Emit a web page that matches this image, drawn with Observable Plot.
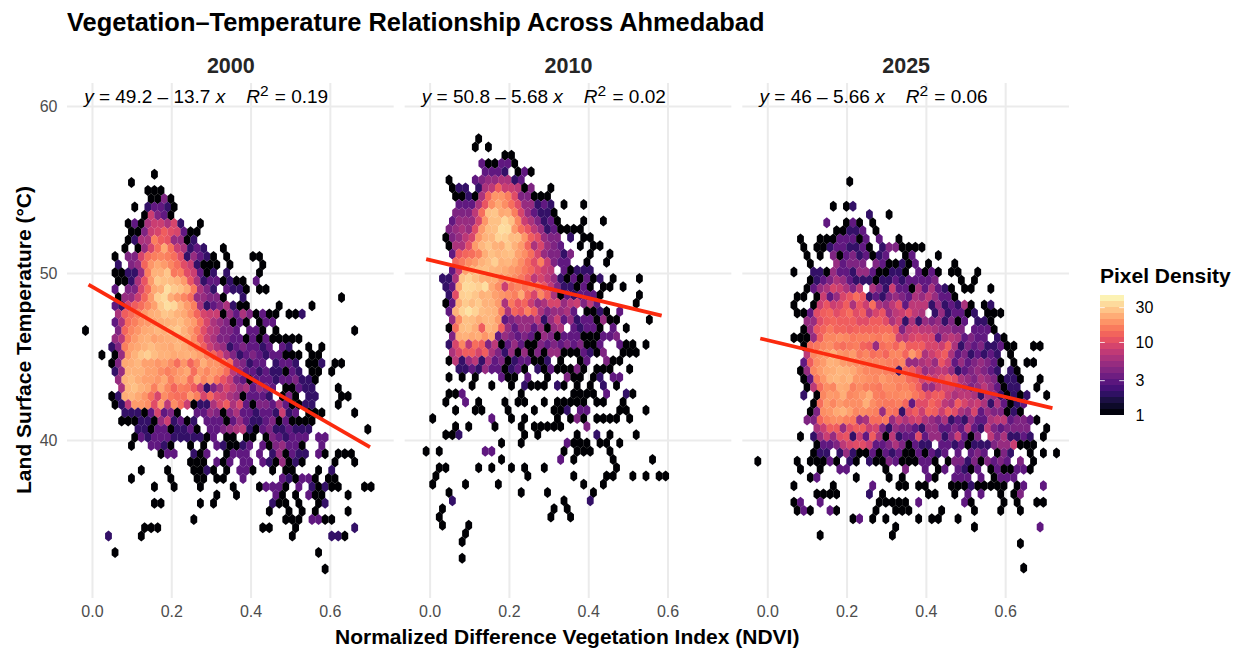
<!DOCTYPE html>
<html><head><meta charset="utf-8">
<script src="https://cdn.jsdelivr.net/npm/d3@7"></script>
<script src="https://cdn.jsdelivr.net/npm/@observablehq/plot@0.6"></script>
<style>
html,body{margin:0;padding:0;background:#fff;width:1241px;height:648px;overflow:hidden}
body{position:relative;font-family:"Liberation Sans",Arial,sans-serif}
.ov{position:absolute;white-space:nowrap;line-height:1}
svg{display:block}
</style></head><body>
<div id="chart"></div>
<div class="ov" id="title" style="left:67px;top:10px;font-size:25.4px;font-weight:bold;color:#000">Vegetation–Temperature Relationship Across Ahmedabad</div>
<div class="ov" id="xt" style="left:335px;top:626px;font-size:21px;font-weight:bold;color:#000">Normalized Difference Vegetation Index (NDVI)</div>
<div class="ov" id="yt" style="left:23px;top:340px;font-size:21px;font-weight:bold;color:#000;transform:translate(-50%,-50%) rotate(-90deg)">Land Surface Temperature (°C)</div>
<div class="ov" id="lt" style="left:1100px;top:265px;font-size:21px;font-weight:bold;color:#000">Pixel Density</div>
<div id="legend" style="position:absolute;left:1100px;top:289px"></div>
<script>
// Panels
const years = ["2000", "2010", "2025"];
// Fit line read-outs, one value per panel
const fitXStart = [-0.01, -0.01, -0.019];
const fitXEnd = [0.70, 0.584, 0.718];
const fitYStart = [49.34, 50.86, 46.11];
const fitYEnd = [39.61, 47.48, 41.94];
const eqIntercept = ["49.2", "50.8", "46"];
const eqSlope = ["13.7", "5.68", "5.66"];
const eqR2 = ["0.19", "0.02", "0.06"];
// Hexagon bin grid of the picture, one value per panel
const topRowY = [55.95, 58.07, 55.51];
const oddRowX = [-0.0176, -0.0186, -0.0335];
const evenRowX = [-0.0093, -0.0101, -0.0252];
const binW = 0.01656, binH = 0.4925;
// Axis and legend ticks
const xTicks = [0, 0.2, 0.4, 0.6];
const yTicks = [40, 50, 60];
const legendTicks = [1, 3, 10, 30];

// Counts of every hexagon, one string per row from the top.
// "col:codes" = first column, then one base-36 count per column ("." = no hexagon).
const rows2000 = [
"10:1","7:1","9:111","10:1141","7:1.23321","9:18431","6:131688692..1","7:11489ca9311","6:1266gcb5512",
"6:1.159eme86232..1","4:1.449eghgea25321.1...11","5:2.45djmkhea82111.1....1","4:11225goosfga8312.2....1",
"5:1126bktrqokb62331211.3","4:3.449emoytrnf642.3221.11","5:1558dkuxnkhe55441..2 39:1",
"4:329cehltywpkg62346211 29:1 34:1","5:6cegknosromid988153641311.112","4:36egjkmnopqmke9654131.133",
"0:1 5:4dhjmnpnrtokfa76443.331.1 41:1","4:57gknolmnoonic864433131311111","4:24glmoqonmpnlic8652343323.32..1.1",
"2:1.15kosuqoomnonlhda642343233111.11","4:14mnplljliejdhnjjge54233.2332.112.11","4:25ooolligikmekhkie75332322132.11.1",
"5:5oqnlljmgklemhkfb84313332334221","5:6promgmhdgfc824697563543.11322 38:1","4:12npmje9ifeekg9d986513332.141.22 39:11",
"4:127kkiak7ie812269c6931443631122 38:1","6:222139341..3354146332332823.111 41:1","5:111221582312.33313532234131111",
"8:2213312231.3345672134223222 43:1","7:1323332222213.11.11.1432333.33","7:1..3321..1.1.321123.3145331..3",
"11:133..213..1333.3.251322.31.111","16:111.313.33.3215121 38:1 41:1","8:1 12:1 16:1121.1.331 28:1.11 35:1.2",
"7:1 13:1 17:11 20:11 24:3 30:321331 37:11","10:1 13:1 17:1 22:1 26:13331 32:3 34:21211 42:11",
"20:1 23:1 29:31 32:1 34:311 40:1","10:11 17:1 19:1 28:211 32:1 35:12","28:1 31:1 33:1 35:1 40:1",
"16:1 30:111 34:3311","9:111 27:11 32:1 41:2","3:2 8:1 31:1 37:221","","4:1 35:1","","36:1"
];
const rows2010 = [
"8:1","8:1.1","12:11","9:311331","9:3332.131","4:1...34556623","4:122.267c88714..1","5:11216djjga44111",
"5:3336bimiea55232 21:1 24:1","5:4447ersmng953221","4:35559jrrwrh864231 24:1 27:1","4:4565akqryxkeb75231111",
"3:14579jopvuqqjca544.2.11","4:166akpsontokd69543 24:1 26:11","4:3bdegnrpqrlie954424 25:1 28:1","5:dfikoquopmieag8433 25:1 28:1",
"4:38loqrpomkifda87.31222","3:226svronnikifc79752131312 29:1 33:1","3:23mxwuymi8fhfhfb7422131 27:11 30:1",
"4:2auvsopljigmd9hc61323331 33:1","3:13ntqtook6fbd85699578473 32:1","4:3ovzvqpog6dbgc645563.1121.3",
"4:5irqnppk345557258352331511 34:1","4:1eqrncpnc535535156.32331.3.1","4:4nomnjm3543431541333111334",
"4:29h7ec471353114343434113..311.1","4:69cc9c642515141551113214 30:111","4:1725726341233112.1..13..411",
"5:22325331231.21311141.111 31:1","4:1.1.1 12:311 16:3 19:1 22:411 26:12 29:33","7:1 10:1 13:1 15:2111 20:21 23:1 25:1 27:2 29:1",
"4:113 15:1 23:1111 28:3 31:21","3:1 6:3 8:1 12:1 14:11 18:1 20:11111 26:11 30:1","5:1 8:11 13:1 17:1 20:112 24:33 30:11 34:1",
"1:1 10:3 13:1 15:1 20:1 22:141 26:1111 31:1","5:1 7:1 11:1 15:1 17:11111 25:4","3:112 15:1 17:1 23:1 26:2 28:1 32:1",
"12:1 15:1 22:3111 27:11 30:1","0:1 2:1 9:33 21:1 23:111 28:1","12:1 21:3 23:1 29:1 35:1","2:11 8:1 10:1 13:1 15:1 18:1 29:1",
"2:1 16:1 23:1 28:11 32:1 34:1 36:11","1:1 6:1 11:1 24:1 27:1","4:1 15:1 19:1 26:1","4:2 21:1 25:2","3:1 20:1 22:1","2:1 19:1 22:1",
"3:1 7:1","6:1","6:1","","6:1"
];
const rows2025 = [
"14:1","","","12:1.12","17:2..1","11:3..131.1","12:11223.1","7:1 10:11133313.3 22:1","7:1 9:112332231.2441111",
"8:1 10:1.413423123..13 28:1","8:1 12:53444.4311213 26:1 30:1","6:1 9:221533255311221.3131 30:11 34:1","8:12346532221223233334 31:1 33:1",
"8:135698647.6428331636321 32:11 36:1","6:11.18359beb23245436575331","6:1..18b89c6b8e657a37772523261.12",
"6:113acdaceac69b578a76.2523312.111","8:55acdcccaacca682625452413.221","7:15bdfddcddddeeb4787765544.3331",
"6:1115chhihfgggfhg879a9936763433.21","7:1efhifefgdc5efdhccc998c6243422311 42:11","8:7hjknjikfhefdhhdkf68ac63423232.1",
"7:3cikonkjihhhhgfh55675b835345431.1 41:11","7:15hkmnpomjhhhgf2dc9567752345432.21","7:13fjopnpjjihkihhed9a8aca6546541221 43:1",
"8:17eihnmgiggfiighfc558997645753122 43:1","7:2.1hkjnhikngfhhiifdacc8677626521212 44:1","9:1ekhkiiinigffgd3aadb76c9786263123",
"8:14ijmolhihg5fe2ac8dc8ca6593544121","8:44dgiigf56eef58689654623253367734431","9:68cc5acc8942544325533437327434444 44:1",
"7:1.2585ab283c617233a355248314.7462232 44:1","9:133479aa8334641322.332312224558111","9:122.25211313231131323.3.343.142..1.1.1",
"0:1 6:1.11131.21.21143111331.1442414343.4.1","7:1 10:1 13:33 20:1 23:4 26:3 28:13 31:3213 36:1311331","8:13 15:1 20:1 22:1 26:31 30:333 34:3 36:1333",
"6:1 12:1 18:3 22:11 25:11 30:111211111 40:13 44:3","9:1111 17:2 19:1 26:11 30:1 32:3 34:3 37:1 39:14","6:13 10:3 19:11111 25:3 32:31 38:1 40:1 43:11",
"6:131 11:31 18:1 21:111 28:1 33:1 37:1 40:1","15:13 18:1 20:1 25:1 27:11 31:1","21:1 33:1 43:3","10:1 21:1","40:1","","","41:1"
];
const panelRows = [rows2000, rows2010, rows2025];

// Decode the transcribed rows into one record per hexagon
const hexes = [];
panelRows.forEach((rows, p) => rows.forEach((row, r) => {
  row.split(" ").filter(Boolean).forEach(tok => {
    const [col, codes] = tok.split(":");
    [...codes].forEach((ch, i) => {
      if (ch === ".") return;
      const n = parseInt(ch, 36);
      if (!n) return;
      const c = +col + i;
      hexes.push({year: years[p], n,
        x: (r % 2 ? oddRowX[p] : evenRowX[p]) + c * binW,
        y: topRowY[p] - r * binH});
    });
  });
}));

// A hexagon bin as ggplot draws it: pointy-top, taller than wide
const hexSymbol = {draw(ctx) {
  const w = 3.4, h = 5.5, s = 2.75;
  ctx.moveTo(0, -h); ctx.lineTo(w, -s); ctx.lineTo(w, s);
  ctx.lineTo(0, h); ctx.lineTo(-w, s); ctx.lineTo(-w, -s); ctx.closePath();
}};

const fitSegs = years.map((year, i) => ({year, x1: fitXStart[i], x2: fitXEnd[i], y1: fitYStart[i], y2: fitYEnd[i]}));
const eqs = years.map((year, i) => ({year, label: i}));

const chart = Plot.plot({
  width: 1241, height: 648,
  marginTop: 83, marginBottom: 50, marginLeft: 67, marginRight: 172,
  style: {fontFamily: "Liberation Sans, Arial, sans-serif", background: "#fff"},
  fx: {domain: years, paddingInner: 11 / 338, paddingOuter: 0, round: false, label: null},
  x: {domain: [-0.063, 0.761]},
  y: {domain: [30.54, 61.38]},
  color: {type: "log", domain: [1, 44], scheme: "magma"},
  marks: [
    Plot.gridX(xTicks, {stroke: "#ebebeb", strokeOpacity: 1, strokeWidth: 2}),
    Plot.gridY(yTicks, {stroke: "#ebebeb", strokeOpacity: 1, strokeWidth: 2}),
    Plot.dot(hexes, {x: "x", y: "y", fx: "year", fill: "n", r: 1, symbol: hexSymbol}),
    Plot.link(fitSegs, {x1: "x1", x2: "x2", y1: "y1", y2: "y2", fx: "year", stroke: "#fb2a0e", strokeWidth: 3.8, strokeLinecap: "butt"}),
    Plot.text(eqs, {
      fx: "year", x: () => -0.021, y: () => 60.6,
      text: d => `${d.label}`, textAnchor: "start", lineAnchor: "middle", fontSize: 19, fill: "#000",
      render(index, scales, values, dims, ctx, next) {
        const g = next(index, scales, values, dims, ctx);
        d3.select(g).selectAll("text").each(function () {
          const i = +this.textContent, t = d3.select(this);
          t.text(null);
          const add = (s, o = {}) => {
            const sp = t.append("tspan").text(s);
            if (o.i) sp.attr("font-style", "italic");
            if (o.dx) sp.attr("dx", o.dx);
            if (o.dy) sp.attr("dy", o.dy);
            if (o.fs) sp.attr("font-size", o.fs);
          };
          add("y", {i: 1});
          add(` = ${eqIntercept[i]} – ${eqSlope[i]} `);
          add("x", {i: 1});
          add("R", {i: 1, dx: 21});
          add("2", {dy: -7, fs: 15.5});
          add(` = ${eqR2[i]}`, {dy: 7, dx: 1});
        });
        return g;
      }
    }),
    Plot.axisFx({anchor: "top", tickSize: 0, tickPadding: 11, fontSize: 21.5, fontWeight: "bold", color: "#262626", label: null}),
    Plot.axisX({ticks: xTicks, tickFormat: d3.format(".1f"), tickSize: 0, tickPadding: 7, fontSize: 16, color: "#4d4d4d", label: null}),
    Plot.axisY({ticks: yTicks, tickSize: 0, tickPadding: 10, fontSize: 16, color: "#4d4d4d", label: null})
  ]
});
document.getElementById("chart").append(chart);

// Colour bar, built from the same log colour scale
const rampEdges = d3.range(21).map(i => Math.pow(44, i / 20));
const ramp = rampEdges.slice(0, -1).map((v, i) => ({y1: v, y2: rampEdges[i + 1], v: Math.sqrt(v * rampEdges[i + 1])}));
const legend = Plot.plot({
  width: 100, height: 142, marginTop: 6, marginBottom: 16, marginLeft: 0, marginRight: 76,
  style: {fontFamily: "Liberation Sans, Arial, sans-serif", background: "transparent"},
  x: {domain: [0, 1], axis: null},
  y: {type: "log", domain: [1, 44], axis: null},
  color: {type: "log", domain: [1, 44], scheme: "magma"},
  marks: [
    Plot.rect(ramp, {x1: () => 0, x2: () => 1, y1: "y1", y2: "y2", fill: "v"}),
    Plot.ruleY(legendTicks, {x1: () => 0, x2: () => 0.2, stroke: "#fff", strokeWidth: 0.8}),
    Plot.ruleY(legendTicks, {x1: () => 0.8, x2: () => 1, stroke: "#fff", strokeWidth: 0.8}),
    Plot.axisY({anchor: "right", ticks: legendTicks, tickFormat: d => String(d), tickSize: 0, tickPadding: 11, fontSize: 16, color: "#000", label: null})
  ]
});
document.getElementById("legend").append(legend);
</script></body></html>
